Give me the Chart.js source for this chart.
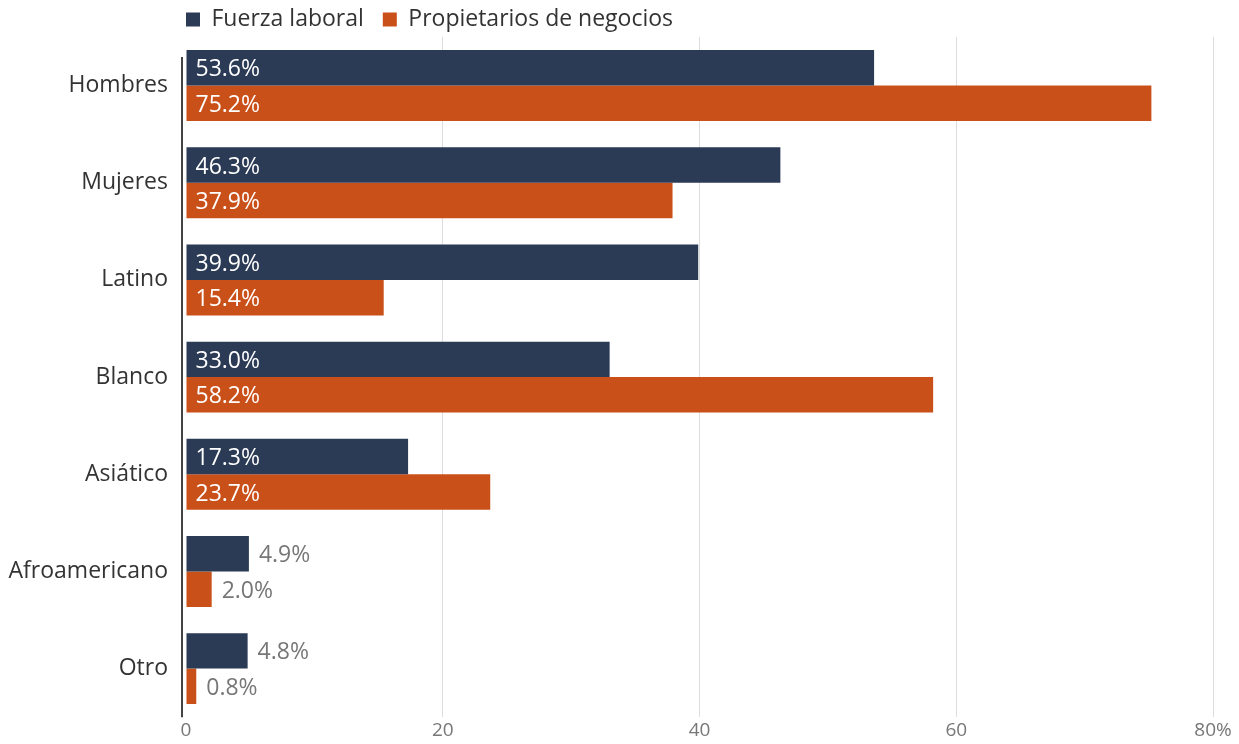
<!DOCTYPE html>
<html>
<head>
<meta charset="utf-8">
<script src="https://cdn.jsdelivr.net/npm/chart.js@4.4.1/dist/chart.umd.min.js"></script>
<style>
  html, body { margin: 0; padding: 0; background: #fff; }
  #wrap { width: 1239px; height: 744px; position: relative; }
</style>
</head>
<body>
<div id="wrap"><canvas id="chart"></canvas></div>
<script>
// Chart data
const categories = ['Hombres', 'Mujeres', 'Latino', 'Blanco', 'Asiático', 'Afroamericano', 'Otro'];
const laborForce = [53.6, 46.3, 39.9, 33.0, 17.3, 4.9, 4.8];
const businessOwners = [75.2, 37.9, 15.4, 58.2, 23.7, 2.0, 0.8];
const xTicks = [0, 20, 40, 60, 80];

const COLORS = {
  navy: '#2b3a55',
  orange: '#ca501a',
  text: '#333333',
  muted: '#777777',
  grid: '#dddddd',
};

const FONT = '"Open Sans", sans-serif';

// Value labels: inside the bar in white, outside in gray when the bar is short
const valueLabels = {
  id: 'valueLabels',
  afterDatasetsDraw(chart) {
    const ctx = chart.ctx;
    ctx.save();
    ctx.font = '23px ' + FONT;
    ctx.textBaseline = 'middle';
    ctx.textAlign = 'left';
    chart.data.datasets.forEach((ds, i) => {
      chart.getDatasetMeta(i).data.forEach((bar, j) => {
        const text = ds.data[j].toFixed(1) + '%';
        const w = ctx.measureText(text).width;
        const barW = bar.x - bar.base;
        if (barW > w + 18) {
          ctx.fillStyle = '#ffffff';
          ctx.fillText(text, bar.base + 9, bar.y + 2);
        } else {
          ctx.fillStyle = COLORS.muted;
          ctx.fillText(text, bar.x + 10, bar.y + 2);
        }
      });
    });
    ctx.restore();
  }
};

// Axis line a few pixels left of zero, and legend aligned with the plot
const axisLine = {
  id: 'axisLine',
  afterLayout(chart) {
    const pad = chart.options.plugins.legend.labels.padding;
    chart.legend.left = chart.chartArea.left - pad;
    chart.legend.top = -11;
  },
  beforeDatasetsDraw(chart) {
    const { ctx, chartArea } = chart;
    const x = chart.scales.x.getPixelForValue(0) - 4;
    ctx.save();
    ctx.strokeStyle = '#444';
    ctx.lineWidth = 2;
    ctx.beginPath();
    ctx.moveTo(x, chartArea.top + 20);
    ctx.lineTo(x, chartArea.bottom);
    ctx.stroke();
    ctx.restore();
  }
};

new Chart(document.getElementById('chart'), {
  type: 'bar',
  data: {
    labels: categories,
    datasets: [
      {
        label: 'Fuerza laboral',
        data: laborForce,
        backgroundColor: COLORS.navy,
        borderWidth: 0,
        categoryPercentage: 0.73,
        barPercentage: 1.0,
      },
      {
        label: 'Propietarios de negocios',
        data: businessOwners,
        backgroundColor: COLORS.orange,
        borderWidth: 0,
        categoryPercentage: 0.73,
        barPercentage: 1.0,
      },
    ],
  },
  options: {
    indexAxis: 'y',
    responsive: true,
    maintainAspectRatio: false,
    animation: false,
    layout: {
      padding: { left: 0, right: 26, top: 0, bottom: 0 },
    },
    plugins: {
      legend: {
        position: 'top',
        align: 'start',
        maxHeight: 37,
        labels: {
          boxWidth: 14,
          boxHeight: 14,
          padding: 19,
          color: COLORS.text,
          font: { family: FONT, size: 23 },
        },
      },
      tooltip: { enabled: false },
    },
    scales: {
      x: {
        min: 0,
        max: 80,
        afterBuildTicks(scale) {
          scale.ticks = xTicks.map(v => ({ value: v }));
        },
        border: { display: false },
        grid: {
          color: c => (c.tick && c.tick.value === 0 ? 'transparent' : COLORS.grid),
          drawTicks: false,
        },
        ticks: {
          padding: 2,
          color: COLORS.muted,
          font: { family: FONT, size: 19 },
          callback: v => (v === 80 ? v + '%' : v),
        },
      },
      y: {
        afterFit(scale) {
          scale.width = 186;
        },
        border: { display: false },
        grid: { display: false },
        ticks: {
          padding: 10,
          color: COLORS.text,
          font: { family: FONT, size: 23 },
        },
      },
    },
  },
  plugins: [valueLabels, axisLine],
});
</script>
</body>
</html>
